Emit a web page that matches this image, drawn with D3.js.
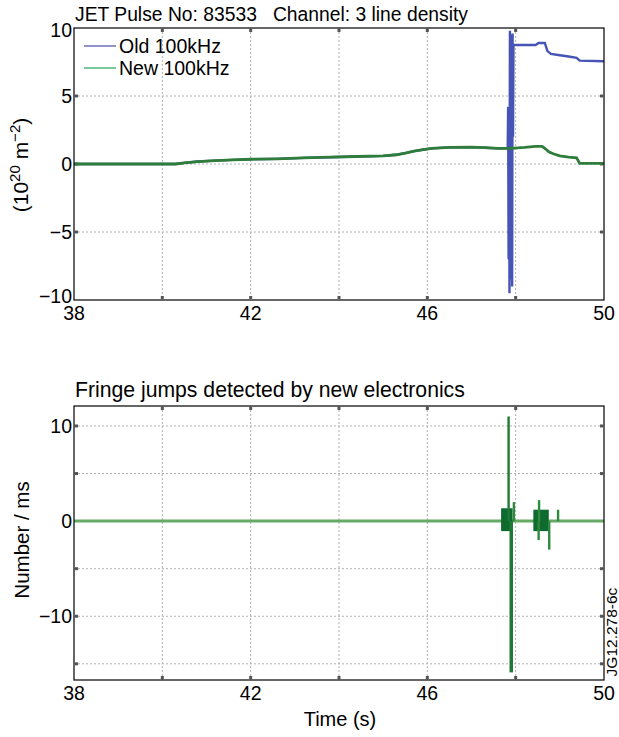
<!DOCTYPE html>
<html><head><meta charset="utf-8">
<script src="https://cdn.jsdelivr.net/npm/d3@7"></script>
<style>
body{margin:0;background:#fff;}
text{font-family:"Liberation Sans",Arial,sans-serif;fill:#000;}
</style></head>
<body><svg id="c" width="619" height="737"></svg>
<script>
// ---------- DATA ----------
const topTitle = "JET Pulse No: 83533   Channel: 3 line density";
const bottomTitle = "Fringe jumps detected by new electronics";
const seriesNames = ["Old 100kHz", "New 100kHz"];
const xTickLabels = [38, 42, 46, 50];
const xGridValues = [40, 42, 44, 46, 48];
const topYTicks = [-10, -5, 0, 5, 10];
const topYGrid = [-5, 0, 5];
const botYTicks = [-10, 0, 10];
const botYGrid = [-15, -10, -5, 5, 10];

// New 100kHz line density (10^20 m^-2)
const newT = [38, 40.3, 40.5, 40.8, 41.2, 41.6, 42.0, 42.6, 43.2, 43.8, 44.4, 45.0, 45.3, 45.5, 45.7, 45.9, 46.1, 46.5, 47.0, 47.3, 47.6, 47.9, 48.2, 48.45, 48.6, 48.68, 48.75, 48.85, 49.0, 49.2, 49.38, 49.45, 50];
const newV = [0, 0, 0.08, 0.18, 0.25, 0.3, 0.35, 0.38, 0.45, 0.5, 0.55, 0.6, 0.68, 0.8, 0.95, 1.05, 1.15, 1.22, 1.24, 1.2, 1.15, 1.15, 1.22, 1.3, 1.3, 1.1, 0.9, 0.75, 0.6, 0.5, 0.45, 0.05, 0.05];

// Old 100kHz line density (10^20 m^-2)
const oldT = [38, 40.3, 40.5, 40.8, 41.2, 41.6, 42.0, 42.6, 43.2, 43.8, 44.4, 45.0, 45.3, 45.5, 45.7, 45.9, 46.1, 46.5, 47.0, 47.3, 47.6, 47.8,
  47.82, 47.83, 47.84, 47.85, 47.86, 47.87, 47.88, 47.89, 47.9, 47.91, 47.92, 47.93, 47.94, 47.95, 47.97,
  48.45, 48.52, 48.66, 48.72, 48.8, 49.0, 49.2, 49.38, 49.45, 50];
const oldV = [0, 0, 0.08, 0.18, 0.25, 0.3, 0.35, 0.38, 0.45, 0.5, 0.55, 0.6, 0.68, 0.8, 0.95, 1.05, 1.15, 1.22, 1.24, 1.2, 1.15, 1.15,
  1.2, 4.2, -7.0, 3.5, -9.5, 9.8, -8.5, 9.5, -6.0, 8.0, -9.0, 9.6, 2.0, 8.7, 8.75,
  8.75, 8.9, 8.9, 8.3, 8.1, 8.0, 7.9, 7.8, 7.6, 7.55];

// Fringe jumps (number / ms): baseline, dense bursts (envelopes), isolated spikes
const fringeT = [38, 50];
const fringeV = [0, 0];
const burstStart = [47.67, 48.4];
const burstEnd = [47.93, 48.75];
const burstHi = [1.35, 1.2];
const burstLo = [-1.05, -1.05];
const spikeT = [47.84, 47.9, 47.96, 48.53, 48.52, 48.76, 48.96];
const spikeV = [11.0, -15.9, 2.0, 2.2, -2.0, -3.0, 1.2];

// ---------- DRAW ----------
const svg = d3.select("#c");
const X0 = 74, X1 = 604;
const x = d3.scaleLinear().domain([38, 50]).range([X0, X1]);
const yTop = d3.scaleLinear().domain([-10, 10]).range([300, 28]);
const yBot = d3.scaleLinear().domain([-16.7, 12.1]).range([680, 406]);
const FS = 19.5;

function panel(y, yGrid, yTicks, yTickFmt) {
  const g = svg.append("g");
  const [yb, yt] = y.range();
  g.selectAll(".vg").data(xGridValues).enter().append("line")
    .attr("x1", d => x(d)).attr("x2", d => x(d)).attr("y1", yt).attr("y2", yb)
    .attr("stroke", "#b0b0b0").attr("stroke-width", 1).attr("stroke-dasharray", "2,2");
  g.selectAll(".hg").data(yGrid).enter().append("line")
    .attr("x1", X0).attr("x2", X1).attr("y1", d => y(d)).attr("y2", d => y(d))
    .attr("stroke", "#b0b0b0").attr("stroke-width", 1).attr("stroke-dasharray", "2,2");
  g.selectAll(".tb").data(xGridValues).enter().append("rect")
    .attr("x", d => x(d) - 1.5).attr("y", yb - 4).attr("width", 3).attr("height", 3).attr("fill", "#555");
  g.selectAll(".tt").data(xGridValues).enter().append("rect")
    .attr("x", d => x(d) - 1.5).attr("y", yt + 1).attr("width", 3).attr("height", 3).attr("fill", "#555");
  g.selectAll(".tl").data(yGrid).enter().append("rect")
    .attr("x", X0 + 1).attr("y", d => y(d) - 1.5).attr("width", 3).attr("height", 3).attr("fill", "#555");
  g.selectAll(".tr").data(yGrid).enter().append("rect")
    .attr("x", X1 - 4).attr("y", d => y(d) - 1.5).attr("width", 3).attr("height", 3).attr("fill", "#555");
  const dom = y.domain();
  g.selectAll(".yl").data(yTicks).enter().append("text")
    .attr("x", X0 - 2)
    .attr("y", d => y(d) + 7 + (d === dom[0] ? -4 : 0) + (d === dom[1] ? 2 : 0))
    .attr("text-anchor", "end").attr("font-size", FS).text(yTickFmt);
  g.selectAll(".xl").data(xTickLabels).enter().append("text")
    .attr("x", d => x(d)).attr("y", yb + 20).attr("text-anchor", "middle")
    .attr("font-size", FS).text(d => d);
  return g;
}
const fmt = d => d < 0 ? "\u2212" + Math.abs(d) : String(d);

// ----- top panel -----
const gT = panel(yTop, topYGrid, topYTicks, fmt);
const lineT = (tt, vv) => d3.line().x((d, i) => x(tt[i])).y((d, i) => yTop(vv[i]));
svg.append("clipPath").attr("id", "cT").append("rect")
  .attr("x", X0).attr("y", 28).attr("width", X1 - X0).attr("height", 272);
gT.append("path").datum(oldV).attr("d", lineT(oldT, oldV))
  .attr("fill", "none").attr("stroke", "#4654b6").attr("stroke-width", 2.4).attr("clip-path", "url(#cT)");
gT.append("path").datum(newV).attr("d", lineT(newT, newV))
  .attr("fill", "none").attr("stroke", "#2f7d3b").attr("stroke-width", 2.8).attr("clip-path", "url(#cT)");
gT.append("rect").attr("x", X0).attr("y", 28).attr("width", X1 - X0).attr("height", 272)
  .attr("fill", "none").attr("stroke", "#000").attr("stroke-width", 1.2);
svg.append("text").attr("x", 75).attr("y", 21).attr("font-size", 19.3)
  .style("white-space", "pre").text(topTitle);
const legColors = ["#6c70b8", "#4fb57c"];
seriesNames.forEach((s, i) => {
  const ly = 46 + i * 22;
  svg.append("line").attr("x1", 84).attr("x2", 116).attr("y1", ly).attr("y2", ly)
    .attr("stroke", legColors[i]).attr("stroke-width", 1.5);
  svg.append("text").attr("x", 119).attr("y", ly + 7).attr("font-size", FS).text(s);
});
const yl = svg.append("text").attr("transform", "translate(28,165) rotate(-90)")
  .attr("text-anchor", "middle").attr("font-size", 21);
yl.append("tspan").text("(10");
yl.append("tspan").attr("font-size", 15).attr("dy", -8).text("20");
yl.append("tspan").attr("dy", 8).text(" m");
yl.append("tspan").attr("font-size", 15).attr("dy", -8).text("\u22122");
yl.append("tspan").attr("dy", 8).text(")");

// ----- bottom panel -----
const gB = panel(yBot, botYGrid, botYTicks, fmt);
gB.append("path").datum(fringeV)
  .attr("d", d3.line().x((d, i) => x(fringeT[i])).y(d => yBot(d)))
  .attr("fill", "none").attr("stroke", "#66aa66").attr("stroke-width", 3);
gB.selectAll(".burst").data(burstStart).enter().append("rect")
  .attr("x", d => x(d)).attr("width", (d, i) => x(burstEnd[i]) - x(d))
  .attr("y", (d, i) => yBot(burstHi[i])).attr("height", (d, i) => yBot(burstLo[i]) - yBot(burstHi[i]))
  .attr("fill", "#0f6a30");
gB.selectAll(".spike").data(spikeT).enter().append("line")
  .attr("x1", d => x(d)).attr("x2", d => x(d))
  .attr("y1", yBot(0)).attr("y2", (d, i) => yBot(spikeV[i]))
  .attr("stroke", (d, i) => Math.abs(spikeV[i]) > 10 ? "#1f7a36" : "#2e8a3e")
  .attr("stroke-width", (d, i) => spikeV[i] < -10 ? 3.5 : 2.4);
gB.append("rect").attr("x", X0).attr("y", 406).attr("width", X1 - X0).attr("height", 274)
  .attr("fill", "none").attr("stroke", "#000").attr("stroke-width", 1.2);
svg.append("text").attr("x", 75).attr("y", 397).attr("font-size", 21.2).text(bottomTitle);
svg.append("text").attr("transform", "translate(29,540) rotate(-90)")
  .attr("text-anchor", "middle").attr("font-size", 20.5).text("Number / ms");
svg.append("text").attr("x", 340).attr("y", 726).attr("text-anchor", "middle")
  .attr("font-size", 20).text("Time (s)");
svg.append("text").attr("transform", "translate(617,632) rotate(-90)")
  .attr("text-anchor", "middle").attr("font-size", 15.5).text("JG12.278-6c");
</script></body></html>
